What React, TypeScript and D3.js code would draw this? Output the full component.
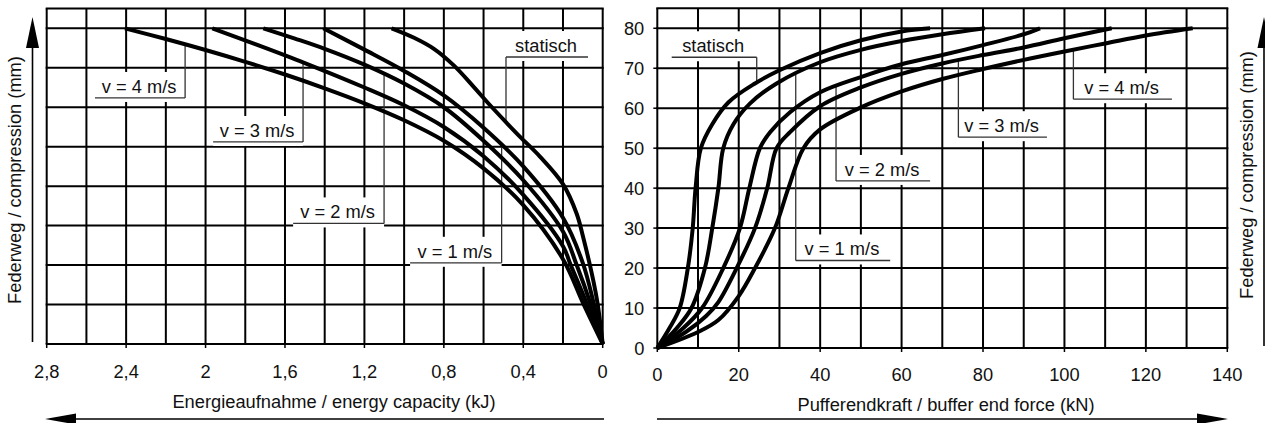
import React from 'react';
import * as d3 from 'd3';

const W = 1265;
const H = 423;
const FONT = "'Liberation Sans', Arial, Helvetica, sans-serif";

// ---------- Left chart: energy capacity (kJ) vs compression (mm) ----------
const energyTicks = [2.8, 2.4, 2.0, 1.6, 1.2, 0.8, 0.4, 0];
const energyGrid = d3.range(15).map((i) => +(i * 0.2).toFixed(1));
const compressionGrid = [0, 10, 20, 30, 40, 50, 60, 70, 80];
const compressionTicks = [0, 10, 20, 30, 40, 50, 60, 70, 80];

const energyStatic: [number, number][] = [
  [0, 0], [0.025, 10], [0.047, 16], [0.098, 27], [0.131, 33], [0.2, 40.5], [0.316, 47.5],
  [0.416, 52.5], [0.483, 56], [0.567, 60.5], [0.652, 65.3], [0.75, 70.6], [0.85, 74.8],
  [0.95, 77.6], [1.063, 80],
];
const energyV1: [number, number][] = [
  [0, 0], [0.044, 10], [0.1, 20.5], [0.2, 32], [0.4, 45], [0.6, 54.8], [0.8, 63],
  [1.0, 69.2], [1.2, 74.6], [1.407, 80],
];
const energyV2: [number, number][] = [
  [0, 0], [0.06, 10], [0.131, 20], [0.2, 28.5], [0.4, 41.5], [0.6, 51.5], [0.8, 60],
  [1.0, 66], [1.2, 70.8], [1.4, 74.8], [1.55, 77.4], [1.709, 80],
];
const energyV3: [number, number][] = [
  [0, 0], [0.078, 10], [0.161, 20], [0.2, 24.8], [0.4, 37.8], [0.6, 47.6], [0.8, 55],
  [1.0, 60.5], [1.2, 65], [1.5, 71.2], [1.75, 76], [1.966, 80],
];
const energyV4: [number, number][] = [
  [0, 0], [0.1, 10.5], [0.2, 21.5], [0.4, 35.2], [0.6, 44.5], [0.8, 51.5], [1.0, 56.7],
  [1.2, 61], [1.4, 64.8], [1.6, 68.3], [1.8, 71.5], [2.0, 74.5], [2.2, 77.3], [2.406, 80],
];
const energySeries = [energyStatic, energyV1, energyV2, energyV3, energyV4];

// ---------- Right chart: buffer end force (kN) vs compression (mm) ----------
const forceTicks = [0, 20, 40, 60, 80, 100, 120, 140];
const forceGrid = d3.range(15).map((i) => i * 10);

const forceStatic: [number, number][] = [
  [0, 0], [3, 5], [5.5, 10], [7.5, 20], [8.7, 30], [9.4, 40], [10.7, 50], [13.5, 56],
  [17.5, 61.5], [24, 66.2], [30, 69.5], [40, 73.8], [50, 77], [60, 79.2], [67, 80],
];
const forceV1: [number, number][] = [
  [0, 0], [4.8, 5], [8.4, 10], [11.7, 20], [13.5, 30], [15, 40], [16.2, 50], [18.7, 56],
  [22.8, 61.2], [29.3, 66.2], [40, 71.5], [50, 74.6], [60, 76.8], [70, 78.5], [80.5, 80],
];
const forceV2: [number, number][] = [
  [0, 0], [6.4, 5], [11, 10], [16.2, 20], [20.3, 30], [22.6, 40], [25.2, 50], [27.7, 54],
  [32.6, 59], [40, 64], [50, 67.8], [60, 71], [70, 73.3], [80, 75.8], [90, 78.5], [94, 80],
];
const forceV3: [number, number][] = [
  [0, 0], [7, 4], [12, 8], [15, 11.5], [19.5, 20], [24, 30], [27, 40], [29.3, 50], [32.6, 54],
  [40, 60.5], [50, 65.2], [60, 68.6], [70, 71.2], [80, 73.3], [90, 75.2], [100, 77.5], [111.6, 80],
];
const forceV4: [number, number][] = [
  [0, 0], [10, 4], [15, 7], [20, 13], [24, 20], [28.9, 30], [32.2, 40], [35.9, 50], [40, 54.7],
  [50, 60.2], [60, 64.2], [70, 67.3], [80, 69.8], [90, 72.1], [100, 74.2], [110, 76.2],
  [120, 78.2], [131.5, 80],
];
const forceSeries = [forceStatic, forceV1, forceV2, forceV3, forceV4];

// ---------- Annotations (data coordinates) ----------
type Lab = { text: string; series: number; from: number; to: number; s: number; conn: number };
const leftLabels: Lab[] = [
  { text: 'v = 4 m/s', series: 4, from: 2.557, to: 2.103, s: 62.35, conn: 2.103 },
  { text: 'v = 3 m/s', series: 3, from: 1.962, to: 1.509, s: 51.2, conn: 1.509 },
  { text: 'v = 2 m/s', series: 2, from: 1.559, to: 1.101, s: 30.56, conn: 1.101 },
  { text: 'v = 1 m/s', series: 1, from: 0.97, to: 0.509, s: 20.58, conn: 0.509 },
  { text: 'statisch', series: 0, from: 0.487, to: 0.074, s: 72.73, conn: 0.487 },
];
const rightLabels: Lab[] = [
  { text: 'statisch', series: 0, from: 3.54, to: 24.42, s: 72.75, conn: 24.42 },
  { text: 'v = 1 m/s', series: 1, from: 34.0, to: 57.2, s: 21.9, conn: 34.0 },
  { text: 'v = 2 m/s', series: 2, from: 43.9, to: 67.0, s: 41.8, conn: 43.9 },
  { text: 'v = 3 m/s', series: 3, from: 73.95, to: 95.7, s: 52.75, conn: 73.95 },
  { text: 'v = 4 m/s', series: 4, from: 102.2, to: 126.4, s: 62.25, conn: 102.2 },
];

function sAt(pts: [number, number][], xv: number) {
  for (let i = 1; i < pts.length; i++) {
    const [x0, y0] = pts[i - 1];
    const [x1, y1] = pts[i];
    if ((xv >= x0 && xv <= x1) || (xv <= x0 && xv >= x1)) {
      const t = x1 === x0 ? 0 : (xv - x0) / (x1 - x0);
      return y0 + t * (y1 - y0);
    }
  }
  return pts[pts.length - 1][1];
}

const exL = d3.scaleLinear().domain([2.8, 0]).range([46.7, 602.7]);
const syL = d3.scaleLinear().domain([0, 85]).range([344, 8.6]);
const fxR = d3.scaleLinear().domain([0, 140]).range([657.3, 1227.3]);
const syR = d3.scaleLinear().domain([0, 85]).range([348, 8.3]);

function fmtComma(v: number) {
  return v === 0 ? '0' : String(v).replace('.', ',');
}

function Labels({ labels, sx, sy, series }: any) {
  return (
    <g>
      {labels.map((lab: Lab, i: number) => {
        const a = sx(lab.from);
        const b = sx(lab.to);
        const left = Math.min(a, b);
        const right = Math.max(a, b);
        const U = sy(lab.s);
        const xc = sx(lab.conn);
        const yc = sy(sAt(series[lab.series], lab.conn));
        return (
          <g key={i}>
            <rect x={left} y={U - 26} width={right - left} height={30} fill="#fff" />
            <line x1={left} x2={right} y1={U} y2={U} stroke="#333" strokeWidth={1.3} />
            <line x1={xc} x2={xc} y1={U} y2={yc} stroke="#333" strokeWidth={1.3} />
            <text x={(left + right) / 2 - 1} y={U - 5} textAnchor="middle" fontSize={18.3} fill="#111">
              {lab.text}
            </text>
          </g>
        );
      })}
    </g>
  );
}

function Chart({ sx, sy, xGrid, xTicks, xTickFmt, series, labels, tickBaseline, showY }: any) {
  const [xa, xb] = sx.range();
  const y0 = sy(0);
  const yTop = sy(85);
  const line = d3
    .line<[number, number]>()
    .x((d) => sx(d[0]))
    .y((d) => sy(d[1]))
    .curve(d3.curveCatmullRom.alpha(0.5));
  return (
    <g>
      {xGrid.map((v: number) => (
        <line key={'gx' + v} x1={sx(v)} x2={sx(v)} y1={y0} y2={yTop} stroke="#000" strokeWidth={2} />
      ))}
      {[...compressionGrid, 85].map((v: number) => (
        <line key={'gy' + v} x1={Math.min(xa, xb) - 1} x2={Math.max(xa, xb) + 1} y1={sy(v)} y2={sy(v)} stroke="#000" strokeWidth={2} />
      ))}
      {xTicks.map((v: number) => (
        <g key={'tx' + v}>
          <line x1={sx(v)} x2={sx(v)} y1={y0} y2={y0 + 4} stroke="#000" strokeWidth={1.5} />
          <text x={sx(v)} y={tickBaseline} textAnchor="middle" fontSize={18.3} fill="#111">
            {xTickFmt(v)}
          </text>
        </g>
      ))}
      {showY &&
        compressionTicks.map((v: number) => (
          <g key={'ty' + v}>
            <line x1={xa - 4} x2={xa} y1={sy(v)} y2={sy(v)} stroke="#000" strokeWidth={1.5} />
            <text x={xa - 13} y={sy(v) + 6.5} textAnchor="end" fontSize={18.3} fill="#111">
              {v}
            </text>
          </g>
        ))}
      <Labels labels={labels} sx={sx} sy={sy} series={series} />
      {series.map((pts: [number, number][], i: number) => (
        <path key={'s' + i} d={line(pts) || ''} fill="none" stroke="#000" strokeWidth={4} strokeLinejoin="round" />
      ))}
    </g>
  );
}

export default function App() {
  return (
    <svg
      width={W}
      height={H}
      viewBox={`0 0 ${W} ${H}`}
      style={{ position: 'absolute', left: 0, top: 0, background: '#fff' }}
      fontFamily={FONT}
    >
      <rect width={W} height={H} fill="#fff" />
      <Chart
        sx={exL}
        sy={syL}
        xGrid={energyGrid}
        xTicks={energyTicks}
        xTickFmt={fmtComma}
        series={energySeries}
        labels={leftLabels}
        tickBaseline={377.5}
        showY={false}
      />
      <Chart
        sx={fxR}
        sy={syR}
        xGrid={forceGrid}
        xTicks={forceTicks}
        xTickFmt={(v: number) => String(v)}
        series={forceSeries}
        labels={rightLabels}
        tickBaseline={381}
        showY={true}
      />
      {/* axis titles */}
      <text x={334} y={408} textAnchor="middle" fontSize={18.3} fill="#111">
        Energieaufnahme / energy capacity (kJ)
      </text>
      <text x={946} y={411} textAnchor="middle" fontSize={18.3} fill="#111">
        Pufferendkraft / buffer end force (kN)
      </text>
      <text transform="translate(20.5,180) rotate(-90)" textAnchor="middle" fontSize={18.3} fill="#111">
        Federweg / compression (mm)
      </text>
      <text transform="translate(1253,175) rotate(-90)" textAnchor="middle" fontSize={18.3} fill="#111">
        Federweg / compression (mm)
      </text>
      {/* arrows */}
      <line x1={74} x2={604} y1={419} y2={419} stroke="#000" strokeWidth={1.6} />
      <path d="M45,419 L76,413.5 L76,424.5 Z" fill="#000" />
      <line x1={657} x2={1199} y1={419} y2={419} stroke="#000" strokeWidth={1.6} />
      <path d="M1228,419 L1197,413.5 L1197,424.5 Z" fill="#000" />
      <line x1={32.5} x2={32.5} y1={342} y2={46} stroke="#000" strokeWidth={1.6} />
      <path d="M32.5,17 L26,48 L39,48 Z" fill="#000" />
      <line x1={1264} x2={1264} y1={346} y2={46} stroke="#000" strokeWidth={1.6} />
      <path d="M1264,17 L1257.5,48 L1270.5,48 Z" fill="#000" />
    </svg>
  );
}
